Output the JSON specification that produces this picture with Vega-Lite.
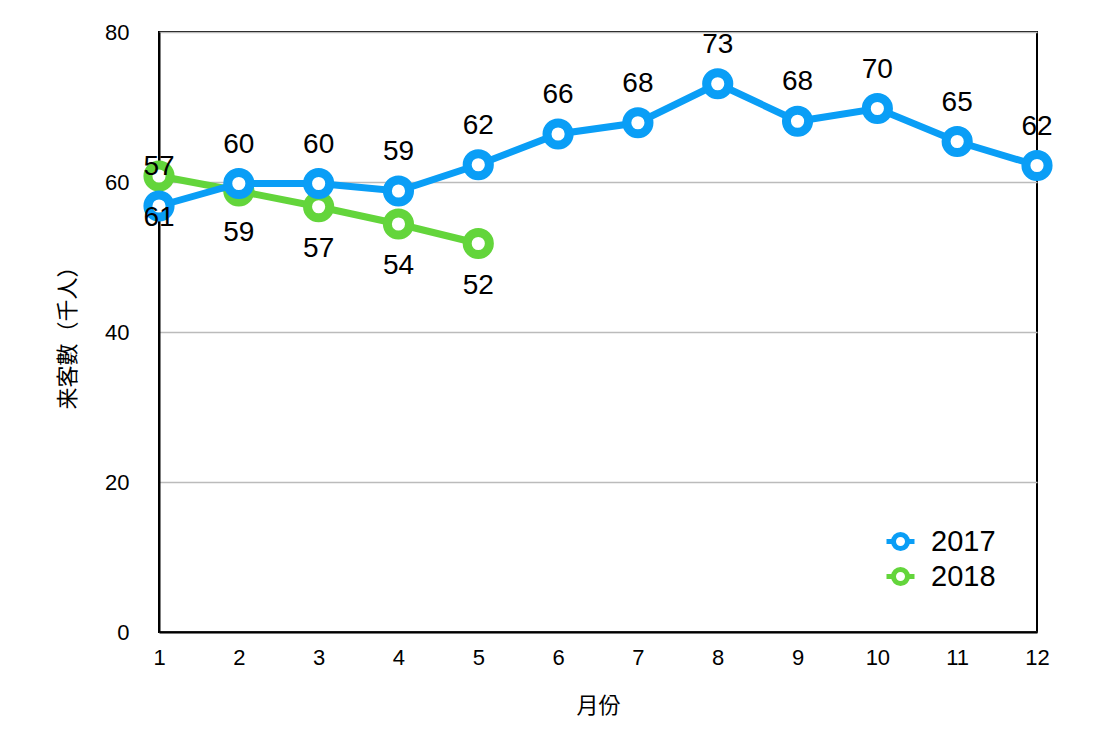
{
  "$schema": "https://vega.github.io/schema/vega-lite/v6.json",
  "width": 878,
  "height": 600,
  "autosize": {"type": "none"},
  "padding": {"left": 159, "top": 32, "right": 77, "bottom": 104},
  "background": "white",
  "config": {
    "font": "Liberation Sans, Noto Sans CJK JP",
    "view": {"stroke": "black", "strokeWidth": 2},
    "axis": {"labelFont": "Liberation Sans", "labelColor": "black", "titleColor": "black", "titleFont": "Noto Sans CJK JP", "titleFontWeight": "normal"}
  },
  "data": {
    "values": [
      {"month": 1, "year": "2018", "value": 60.8},
      {"month": 2, "year": "2018", "value": 58.8},
      {"month": 3, "year": "2018", "value": 56.7},
      {"month": 4, "year": "2018", "value": 54.4},
      {"month": 5, "year": "2018", "value": 51.8},
      {"month": 1, "year": "2017", "value": 56.8},
      {"month": 2, "year": "2017", "value": 59.8},
      {"month": 3, "year": "2017", "value": 59.8},
      {"month": 4, "year": "2017", "value": 58.8},
      {"month": 5, "year": "2017", "value": 62.3},
      {"month": 6, "year": "2017", "value": 66.4},
      {"month": 7, "year": "2017", "value": 67.9},
      {"month": 8, "year": "2017", "value": 73.1},
      {"month": 9, "year": "2017", "value": 68.1},
      {"month": 10, "year": "2017", "value": 69.8},
      {"month": 11, "year": "2017", "value": 65.4},
      {"month": 12, "year": "2017", "value": 62.2}
    ]
  },
  "encoding": {
    "x": {
      "field": "month", "type": "quantitative",
      "scale": {"domain": [1, 12], "nice": false, "zero": false},
      "axis": {"values": [1,2,3,4,5,6,7,8,9,10,11,12], "title": "月份", "grid": false, "ticks": false, "tickSize": 0, "labelFlush": false, "labelPadding": 15, "labelFontSize": 22, "titleFontSize": 22, "titlePadding": 27, "domainColor": "black", "domainWidth": 2}
    },
    "y": {
      "field": "value", "type": "quantitative",
      "scale": {"domain": [0, 80], "nice": false},
      "axis": {"values": [0,20,40,60,80], "title": "来客數（千人）", "grid": true, "gridColor": "#bbbbbb", "gridWidth": 1.5, "ticks": false, "tickSize": 0, "labelFlush": false, "labelPadding": 30, "labelFontSize": 22, "titleFontSize": 22, "titlePadding": 25, "domainColor": "black", "domainWidth": 2}
    },
    "color": {
      "field": "year", "type": "nominal",
      "scale": {"domain": ["2017", "2018"], "range": ["#0a9ef6", "#63d53b"]},
      "legend": {
        "title": null, "orient": "none", "legendX": 727, "legendY": 495,
        "labelFontSize": 29, "labelFont": "Liberation Sans", "labelColor": "black",
        "symbolType": "M -2,0 L -1,0 M 1,0 L 2,0 M -1,0 A 1 1 0 1 1 1,0 A 1 1 0 1 1 -1,0 Z",
        "symbolSize": 196, "symbolStrokeWidth": 5, "symbolFillColor": "white",
        "rowPadding": 0, "labelOffset": 16, "symbolOffset": 0
      }
    }
  },
  "layer": [
    {"transform": [{"filter": "datum.year == '2018'"}], "mark": {"type": "line", "strokeWidth": 7}},
    {"transform": [{"filter": "datum.year == '2018'"}], "mark": {"type": "point", "filled": false, "fill": "white", "fillOpacity": 1, "opacity": 1, "size": 491, "strokeWidth": 9}},
    {"transform": [{"filter": "datum.year == '2017'"}], "mark": {"type": "line", "strokeWidth": 7}},
    {"transform": [{"filter": "datum.year == '2017'"}], "mark": {"type": "point", "filled": false, "fill": "white", "fillOpacity": 1, "opacity": 1, "size": 491, "strokeWidth": 9}},
    {"transform": [{"filter": "datum.year == '2017'"}], "mark": {"type": "text", "fontSize": 28, "dy": -39, "baseline": "middle", "color": "black", "font": "Liberation Sans"}, "encoding": {"text": {"field": "value", "type": "quantitative", "format": ".0f"}, "color": {"value": "black"}}},
    {"transform": [{"filter": "datum.year == '2018'"}], "mark": {"type": "text", "fontSize": 28, "dy": 42, "baseline": "middle", "color": "black", "font": "Liberation Sans"}, "encoding": {"text": {"field": "value", "type": "quantitative", "format": ".0f"}, "color": {"value": "black"}}}
  ]
}
